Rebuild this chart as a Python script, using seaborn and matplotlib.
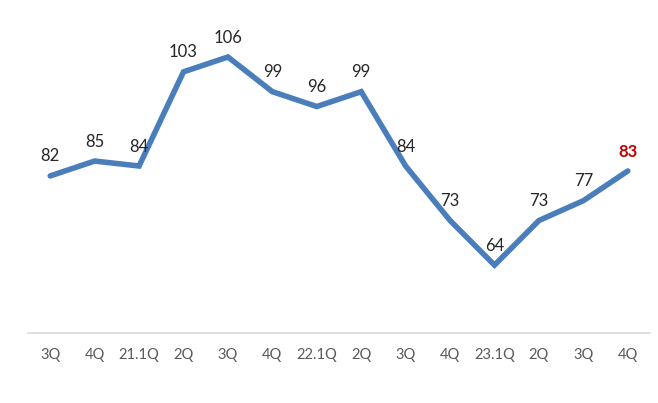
import matplotlib
matplotlib.use("Agg")
import matplotlib.pyplot as plt
import seaborn as sns
import pandas as pd

quarters = ["3Q", "4Q", "21.1Q", "2Q", "3Q", "4Q", "22.1Q", "2Q",
            "3Q", "4Q", "23.1Q", "2Q", "3Q", "4Q"]
values = [82, 85, 84, 103, 106, 99, 96, 99, 84, 73, 64, 73, 77, 83]

df = pd.DataFrame({"pos": range(len(values)), "value": values})

sns.set_style("white")
plt.rcParams['font.family'] = ['Lato', 'DejaVu Sans']

fig = plt.figure(figsize=(6.58, 4.03), dpi=100)
ax = fig.add_axes([28 / 658, 70 / 403, 622 / 658, 333 / 403])

sns.lineplot(data=df, x="pos", y="value", ax=ax, color="#4A7EBB",
             linewidth=4.0, solid_capstyle="round", solid_joinstyle="miter")

for i, v in enumerate(values):
    last = i == len(values) - 1
    ax.annotate(str(v), (i, v), xytext=(0, 14), textcoords="offset points",
                ha="center", va="center", fontsize=12,
                color="#C00000" if last else "#262626",
                fontweight="bold" if last else "normal")

ax.set_xlim(-0.5, 13.5)
ax.set_ylim(50.3, 117.5)
ax.set_xticks(range(len(quarters)))
ax.set_xticklabels(quarters, fontsize=10.5, color="#595959")
ax.set_yticks([])
ax.set_xlabel("")
ax.set_ylabel("")
for side in ["top", "left", "right"]:
    ax.spines[side].set_visible(False)
ax.spines["bottom"].set_color("#D9D9D9")
ax.spines["bottom"].set_linewidth(1.2)
ax.tick_params(axis="x", length=0, pad=11)

fig.savefig("out.png", dpi=100)
